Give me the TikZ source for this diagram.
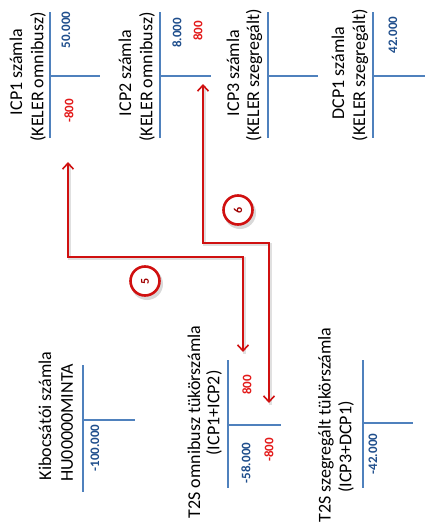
\documentclass[tikz,border=0pt]{standalone}
\usepackage{fontspec}
\setmainfont{Carlito}
\usetikzlibrary{positioning,calc,arrows.meta}

\begin{document}
\begin{tikzpicture}[x=1pt,y=-1pt]
       \definecolor{tline}{HTML}{4F81BD}
       \definecolor{tblue}{HTML}{1F4E8C}
       \definecolor{tred}{HTML}{E31A1A}
       \definecolor{arrowred}{HTML}{D01010}
       \definecolor{stepred}{HTML}{A00000}

       \newcommand{\titlesize}[0]{\fontsize{18}{22}\selectfont}
       \newcommand{\valuesize}[0]{\fontsize{13}{15}\selectfont\bfseries}
       % x, top, bottom, stem y, stem length
       \newcommand{\taccount}[5]{\draw [tbar] (#1,#2) -- (#1,#3) (#1,#4) -- ++(#5,0);}

       \tikzstyle{title}     = [rotate=90, inner sep=0pt, font=\titlesize]
       \tikzstyle{value}     = [rotate=90, inner sep=0pt, font=\valuesize]
       \tikzstyle{tbar}      = [tline, line width=2pt]
       \tikzstyle{connector} = [arrowred, line width=1.6pt, {Straight Barb[length=6pt,width=11pt]}-{Straight Barb[length=6pt,width=11pt]}]
       \tikzstyle{shade}     = [black!12, line width=3.5pt, transform canvas={xshift=1.5pt,yshift=-1.5pt}]
       \tikzstyle{stepmark}  = [circle, draw=arrowred, line width=2.6pt, fill=white, minimum size=29pt, inner sep=0pt, font=\fontsize{12}{14}\selectfont\bfseries, text=stepred]

       \useasboundingbox (0,0) rectangle (425,530);

       % KELER accounts
       \node [title] (icp1title) at (16,72)  {ICP1 számla};
       \node [title] (icp1sub)   at (38,77)  {(KELER omnibusz)};
       \taccount{50}{12}{138}{76}{50}
       \node [value, text=tblue] (icp1debit)  at (66,30)  {50.000};
       \node [value, text=tred]  (icp1credit) at (69,111) {-800};

       \node [title] (icp2title) at (125,73) {ICP2 számla};
       \node [title] (icp2sub)   at (147,77) {(KELER omnibusz)};
       \taccount{160}{12}{138}{76}{51}
       \node [value, text=tblue] (icp2debit) at (177,33) {8.000};
       \node [value, text=tred]  (icp2move)  at (198,31) {800};

       \node [title] (icp3title) at (233,73) {ICP3 számla};
       \node [title] (icp3sub)   at (254,75) {(KELER szegregált)};
       \taccount{268}{12}{138}{76}{50}

       \node [title] (dcp1title) at (338,73) {DCP1 számla};
       \node [title] (dcp1sub)   at (360,75) {(KELER szegregált)};
       \taccount{373}{12}{138}{76}{52}
       \node [value, text=tblue] (dcp1debit) at (393,35) {42.000};

       % issuer and T2S mirror accounts
       \node [title] (kibtitle) at (45,416) {Kibocsátói számla};
       \node [title] (kibsub)   at (67,423) {HU00000MINTA};
       \taccount{83}{365}{492}{420}{52}
       \node [value, text=tblue] (kibcredit) at (95,448) {-100.000};

       \node [title] (omntitle) at (194,422) {T2S omnibusz tükörszámla};
       \node [title] (omnsub)   at (214,413) {(ICP1+ICP2)};
       \taccount{228}{360}{488}{425}{53}
       \node [value, text=tred]  (omndebit)  at (247,385) {800};
       \node [value, text=tblue] (omncredit) at (246,463) {-58.000};
       \node [value, text=tred]  (omnmove)   at (269,450) {-800};

       \node [title] (segtitle) at (326,425) {T2S szegregált tükörszámla};
       \node [title] (segsub)   at (346,447) {(ICP3+DCP1)};
       \taccount{363}{360}{488}{423}{50}
       \node [value, text=tblue] (segcredit) at (373,454) {-42.000};

       % transfers
       \coordinate (icp1in)  at (68,162);
       \coordinate (omnin)   at (243,352);
       \coordinate (bend5)   at (0,257);
       \coordinate (icp2in)  at (203,84);
       \coordinate (omnout)  at (269,403);
       \coordinate (bend6)   at (0,243);

       \draw [shade] (icp1in) -- (icp1in |- bend5) -| (omnin);
       \draw [shade] (icp2in) -- (icp2in |- bend6) -| (omnout);
       \draw [connector] (icp1in) -- (icp1in |- bend5) -| (omnin);
       \draw [connector] (icp2in) -- (icp2in |- bend6) -| (omnout);

       \fill [black!15] (147,284) circle (16);
       \fill [black!15] (240,213) circle (16);
       \node [stepmark, rotate=90] (step5) at (145,281) {5};
       \node [stepmark, rotate=90] (step6) at (238,210) {6};
     \end{tikzpicture}
\end{document}
